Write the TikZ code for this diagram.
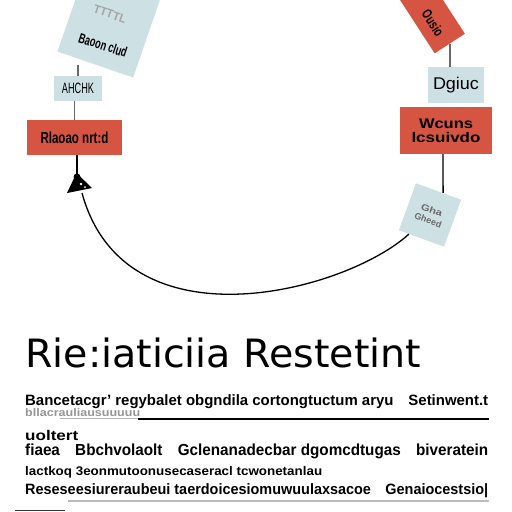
\documentclass[tikz,border=0pt]{standalone}
\usepackage{fontspec}
\usepackage{graphicx}
\setmainfont{Liberation Sans}
\newfontfamily\titlefont{DejaVu Sans}
\usetikzlibrary{calc}
\definecolor{redbox}{RGB}{214,84,66}
\definecolor{lightbox}{RGB}{205,224,228}
\definecolor{inkgray}{RGB}{105,105,105}
\newcommand{\fitto}[2]{\resizebox{#1}{\height}{#2}}
\begin{document}
\begin{tikzpicture}[x=1pt,y=-1pt,
  redb/.style={fill=redbox, inner sep=0, font=\bfseries\fontsize{16}{17}\selectfont},
  lightb/.style={fill=lightbox, inner sep=0, font=\fontsize{15}{16}\selectfont},
  conn/.style={line width=1.3pt, black},
  stub/.style={line width=2pt, inkgray},
  bodyline/.style={anchor=base west, inner sep=0, font=\bfseries\fontsize{15}{17}\selectfont}]
\fill[white] (0,0) rectangle (512,512);
\useasboundingbox (0,0) rectangle (512,512);

% top-left rotated card
\node[lightb, minimum width=80, minimum height=90, rotate=-19] (b1) at (110,22) {};
\node[rotate=-19, inner sep=0, text=inkgray!60, font=\bfseries\fontsize{12}{13}\selectfont] (b1g) at (110,14) {\fitto{34pt}{TTTTL}};
\node[rotate=-18, inner sep=0, font=\bfseries\fontsize{14}{15}\selectfont] (b1t) at (103,45) {\fitto{50pt}{Baoon clud}};

% left chain
\node[lightb, minimum width=48, minimum height=25] (a1) at (78,88.5) {\fitto{32pt}{AHCHK}};
\node[redb, minimum width=95, minimum height=35] (r1) at (74.5,137.5) {\fitto{68pt}{Rlaoao nrt:d}};

% right chain
\node[redb, minimum width=80, minimum height=36, rotate=-57] (b2) at (428,10) {};
\node[rotate=-57, inner sep=0, font=\bfseries\fontsize{14}{15}\selectfont] (b2t) at (433,23) {\fitto{28pt}{Ousio}};
\node[lightb, minimum width=56, minimum height=36] (a2) at (456,85) {\fontsize{17}{18}\selectfont\fitto{46pt}{Dgiuc}};
\node[redb, minimum width=92, minimum height=47, align=center, font=\bfseries\fontsize{14}{15}\selectfont] (r2) at (446,130.5)
  {\fitto{54pt}{Wcuns}\\[-1pt]\fitto{69pt}{lcsuivdo}};
\node[lightb, minimum width=48, minimum height=50, rotate=-20, align=center, text=inkgray,
  font=\bfseries\fontsize{9}{11}\selectfont] (b4) at (430,215) {\fitto{22pt}{Gha}\\\fitto{28pt}{Gheed}};

% connectors
\draw[stub] (a1.north) -- (a1.north |- b1.south);
\draw[line width=0.8pt, inkgray] ([xshift=-4pt]a1.south) -- ([xshift=-0.5pt]r1.north);
\draw[stub] (b2.east) -- (b2.east |- a2.north);
\coordinate (knot) at (77,177);
\coordinate (tail) at (82,193);
\draw[conn] ([xshift=2.5pt]r1.south) -- (knot);
\fill (knot) circle (3.5);
\fill (76.5,173) -- (92,188) -- (67,193) -- cycle;
\fill[white] (81,184) circle (1.4);
\fill[white] (85,187) circle (1);
\draw[conn] (tail) .. controls (125,350) and (345,292) .. (b4);
\draw[conn] ([xshift=-3pt]r2.south) -- ([xshift=4.5pt,yshift=-1.5pt]b4.north);

% title
\node[anchor=base west, inner sep=0, font=\titlefont\fontsize{39}{41}\selectfont] (title) at (25,367)
  {\fitto{396pt}{Rie:iaticiia Restetint}};

% body text
\node[bodyline] (l1) at (25,405) {\fitto{463pt}{Bancetacgr' regybalet obgndila cortongtuctum aryu\quad Setinwent.t}};
\node[bodyline, text=inkgray!70, font=\bfseries\fontsize{11}{12}\selectfont] (l2) at (25,416) {\fitto{115pt}{bllacrauliausuuuuu}};
\draw[line width=1.2pt, inkgray!50] (60,418.5) -- (140,418.5);
\draw[line width=2.2pt] (138,419) -- (489,419);
\node[bodyline, font=\bfseries\fontsize{14}{15}\selectfont] (l3) at (25,440) {\fitto{53pt}{uoltert}};
\node[bodyline, font=\bfseries\fontsize{16}{18}\selectfont] (l4) at (25,455) {\fitto{463pt}{fiaea\quad Bbchvolaolt\quad Gclenanadecbar dgomcdtugas\quad biveratein}};
\node[bodyline, font=\bfseries\fontsize{12.5}{14}\selectfont] (l5) at (25,475) {\fitto{297pt}{lactkoq 3eonmutoonusecaseracl tcwonetanlau}};
\node[bodyline] (l6) at (25,494) {\fitto{463pt}{Reseseesiureraubeui taerdoicesiomuwuulaxsacoe\quad Genaiocestsio|}};
\draw[line width=1.5pt, inkgray!45] (68,501) -- (489,501);
\draw[line width=1.5pt, black!80] (15,510.5) -- (65,510.5);
\end{tikzpicture}
\end{document}
